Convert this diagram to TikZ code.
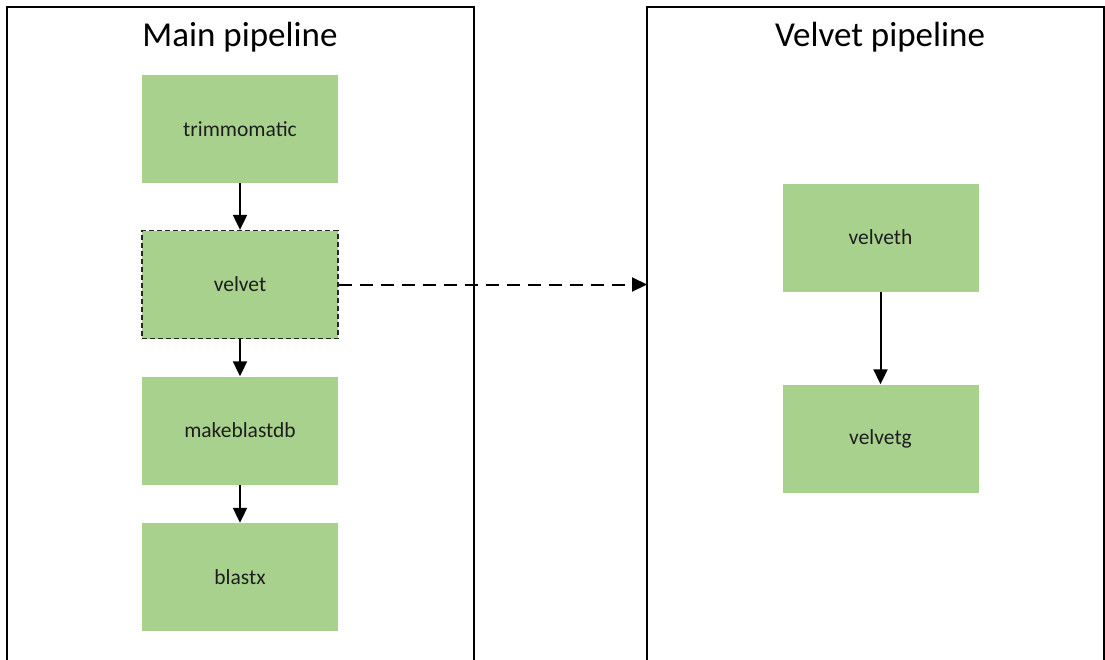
\documentclass[tikz,border=0pt]{standalone}
\usepackage{fontspec}
\setmainfont{Carlito}
\usetikzlibrary{arrows.meta}
\definecolor{boxgreen}{HTML}{A9D18E}
\definecolor{txt}{HTML}{1E1E1E}
\tikzset{
  stage/.style={fill=boxgreen, minimum width=196pt, minimum height=108pt, inner sep=0pt,
    text=txt, font=\fontsize{21.5}{25}\selectfont},
  dashedstage/.style={stage, draw=black!85, line width=1.3pt, dash pattern=on 5pt off 3pt},
  frame/.style={draw=black, line width=1.5pt},
  title/.style={text=black, font=\fontsize{35}{42}\selectfont, inner sep=0pt},
  flow/.style={draw=black, line width=2pt, -{Triangle[length=15pt,width=14pt]}},
  callflow/.style={flow, dash pattern=on 13pt off 8pt}
}
\begin{document}
\begin{tikzpicture}[x=1pt,y=-1pt]
\useasboundingbox (0,0) rectangle (1105,659);
\fill[white] (0,0) rectangle (1105,659);
% frames
\draw[frame] (7,665) -- (7,7) -- (474,7) -- (474,665);
\draw[frame] (647,665) -- (647,7) -- (1104,7) -- (1104,665);
% titles
\node[title] (t1) at (240,37) {Main pipeline};
\node[title] (t2) at (880,37) {Velvet pipeline};
% main pipeline
\node[stage] (trim) at (240,129) {trimmomatic};
\node[dashedstage] (velvet) at (240,284.5) {velvet};
\node[stage] (mkdb) at (240,430.5) {makeblastdb};
\node[stage] (blastx) at (240,577) {blastx};
\coordinate (rframe) at (647,284.5);
% velvet pipeline
\node[stage] (vh) at (880.5,237.5) {velveth};
\node[stage] (vg) at (880.5,438.5) {velvetg};
% connectors
\draw[flow] (trim) -- (velvet);
\draw[flow] (velvet) -- (mkdb);
\draw[flow] (mkdb) -- (blastx);
\draw[flow] (vh) -- (vg);
\draw[callflow] (velvet.east) -- (rframe);
\end{tikzpicture}
\end{document}
